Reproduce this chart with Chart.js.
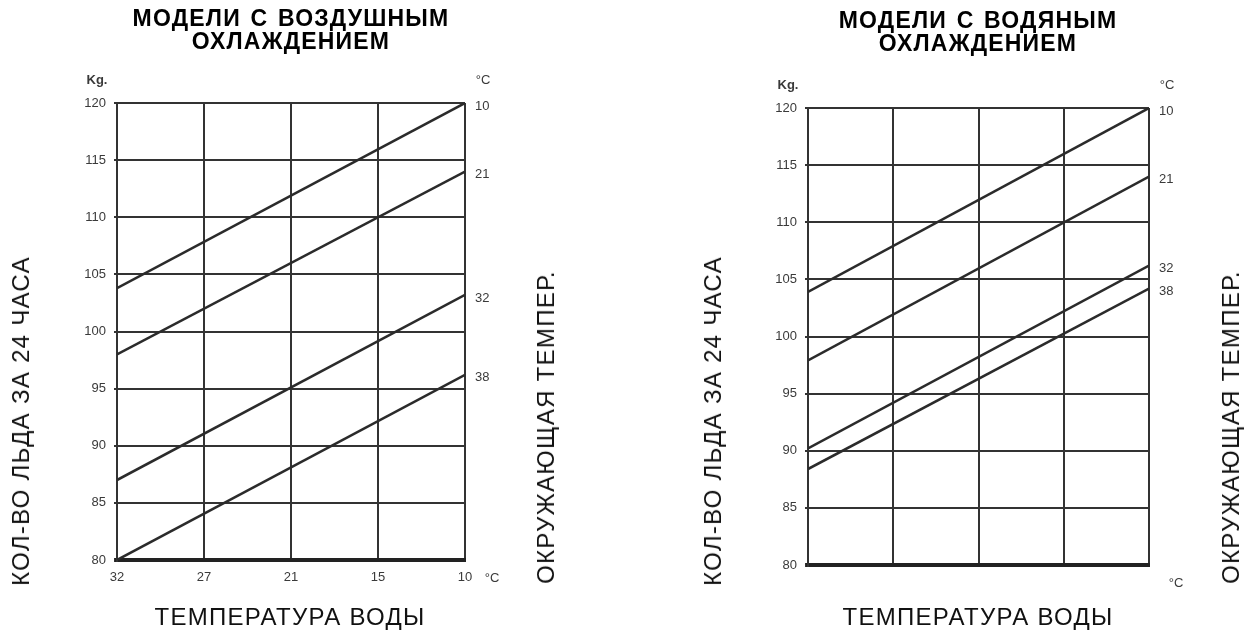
<!DOCTYPE html>
<html>
<head>
<meta charset="utf-8">
<script src="https://cdn.jsdelivr.net/npm/chart.js@4.4.1/dist/chart.umd.min.js"></script>
<style>
  html, body { margin: 0; padding: 0; background: #fff; }
  #wrap { position: relative; width: 1251px; height: 632px; overflow: hidden; font-family: "Liberation Sans", Arial, sans-serif; color: #000; }
  canvas { position: absolute; top: 0; }
  .title { position: absolute; transform: translateX(-50%); text-align: center; font-weight: bold; font-size: 23px; line-height: 23px; letter-spacing: 1.2px; word-spacing: 2px; white-space: nowrap; }
  .axt { position: absolute; font-size: 24px; letter-spacing: 1.3px; white-space: nowrap; transform: translate(-50%, -50%); color: #111; }
  .rot { transform: translate(-50%, -50%) rotate(-90deg); }
</style>
</head>
<body>
<div id="wrap">
  <canvas id="airChart" width="625" height="632" style="left:0"></canvas>
  <canvas id="waterChart" width="626" height="632" style="left:625px"></canvas>

  <div class="title" style="left:291px; top:7px">МОДЕЛИ С ВОЗДУШНЫМ<br>ОХЛАЖДЕНИЕМ</div>
  <div class="title" style="left:978px; top:9px">МОДЕЛИ С ВОДЯНЫМ<br>ОХЛАЖДЕНИЕМ</div>

  <div class="axt rot" style="left:21px; top:421px">КОЛ-ВО ЛЬДА ЗА 24 ЧАСА</div>
  <div class="axt rot" style="left:546px; top:427px">ОКРУЖАЮЩАЯ ТЕМПЕР.</div>
  <div class="axt" style="left:290px; top:617px">ТЕМПЕРАТУРА ВОДЫ</div>

  <div class="axt rot" style="left:713px; top:421px">КОЛ-ВО ЛЬДА ЗА 24 ЧАСА</div>
  <div class="axt rot" style="left:1231px; top:427px">ОКРУЖАЮЩАЯ ТЕМПЕР.</div>
  <div class="axt" style="left:978px; top:617px">ТЕМПЕРАТУРА ВОДЫ</div>
</div>

<script>
// Water temperature positions along the bottom axis (°C), evenly spaced
const waterTemps = ['32', '27', '21', '15', '10'];
// Ambient temperature of each production line (°C)
const ambientTemps = ['10', '21', '32', '38'];

// Ice production per 24h (kg) at water temp 32 °C and at 10 °C — air-cooled models
const airStart = [103.8, 98, 87, 80];
const airEnd   = [120, 114, 103.2, 96.2];

// Same for water-cooled models
const waterStart = [103.9, 97.9, 90.2, 88.4];
const waterEnd   = [120, 114, 106.2, 104.2];

const yTicks = [80, 85, 90, 95, 100, 105, 110, 115, 120];

const INK = '#2b2b2b';
const GRID = '#333333';
const LABEL = '#3a3a3a';
const FONT = '"Liberation Sans", Arial, sans-serif';

function makeDatasets(starts, ends) {
  return ambientTemps.map((t, i) => ({
    label: t,
    data: [{ x: 0, y: starts[i] }, { x: waterTemps.length - 1, y: ends[i] }],
    borderColor: INK,
    borderWidth: 2.5,
    pointRadius: 0,
    fill: false,
    tension: 0
  }));
}

// Draws the ambient temperature beside each line end and the unit captions
const annotate = {
  id: 'annotate',
  afterDatasetsDraw(chart) {
    const ctx = chart.ctx;
    const a = chart.chartArea;
    ctx.save();
    ctx.fillStyle = LABEL;
    ctx.font = '13px ' + FONT;
    ctx.textBaseline = 'middle';
    ctx.textAlign = 'left';
    chart.data.datasets.forEach((ds, i) => {
      const pts = chart.getDatasetMeta(i).data;
      const last = pts[pts.length - 1];
      ctx.fillText(ds.label, last.x + 10, last.y + 3);
    });
    ctx.textAlign = 'center';
    ctx.font = 'bold 13px ' + FONT;
    ctx.fillText('Kg.', a.left - 20, a.top - 23);
    ctx.font = '13px ' + FONT;
    ctx.fillText('°C', a.right + 18, a.top - 23);
    ctx.fillText('°C', a.right + 27, a.bottom + 18);
    ctx.restore();
  }
};

function makeChart(id, starts, ends, showX, area) {
  const canvas = document.getElementById(id);
  const W = canvas.width, H = canvas.height;
  const yW = 40, xH = 30;
  return new Chart(canvas, {
    type: 'line',
    data: { datasets: makeDatasets(starts, ends) },
    plugins: [annotate],
    options: {
      responsive: false,
      animation: false,
      devicePixelRatio: 1,
      layout: {
        autoPadding: false,
        padding: { left: area.left - yW, right: W - area.right, top: area.top, bottom: H - area.bottom - xH }
      },
      plugins: { legend: { display: false }, tooltip: { enabled: false }, title: { display: false } },
      scales: {
        x: {
          type: 'linear',
          min: 0,
          max: waterTemps.length - 1,
          afterFit(s) { s.height = xH; },
          ticks: {
            stepSize: 1,
            autoSkip: false,
            maxRotation: 0,
            padding: 10,
            color: LABEL,
            font: { family: FONT, size: 13 },
            callback: (v) => showX ? (waterTemps[v] ?? '') : ''
          },
          grid: { color: GRID, lineWidth: 2, drawTicks: false },
          border: { display: true, color: '#222', width: 4 }
        },
        y: {
          type: 'linear',
          min: yTicks[0],
          max: yTicks[yTicks.length - 1],
          afterFit(s) { s.width = yW; },
          afterBuildTicks(s) { s.ticks = yTicks.map(v => ({ value: v })); },
          ticks: {
            padding: 8,
            color: LABEL,
            font: { family: FONT, size: 13 }
          },
          grid: {
            color: GRID,
            lineWidth: (c) => (c.tick && c.tick.value === yTicks[0]) ? 4 : 2,
            drawTicks: true,
            tickLength: 3
          },
          border: { display: true, color: GRID, width: 2 }
        }
      }
    }
  });
}

makeChart('airChart', airStart, airEnd, true, { left: 117, right: 465, top: 103, bottom: 560 });
makeChart('waterChart', waterStart, waterEnd, false, { left: 183, right: 524, top: 108, bottom: 565 });
</script>
</body>
</html>
